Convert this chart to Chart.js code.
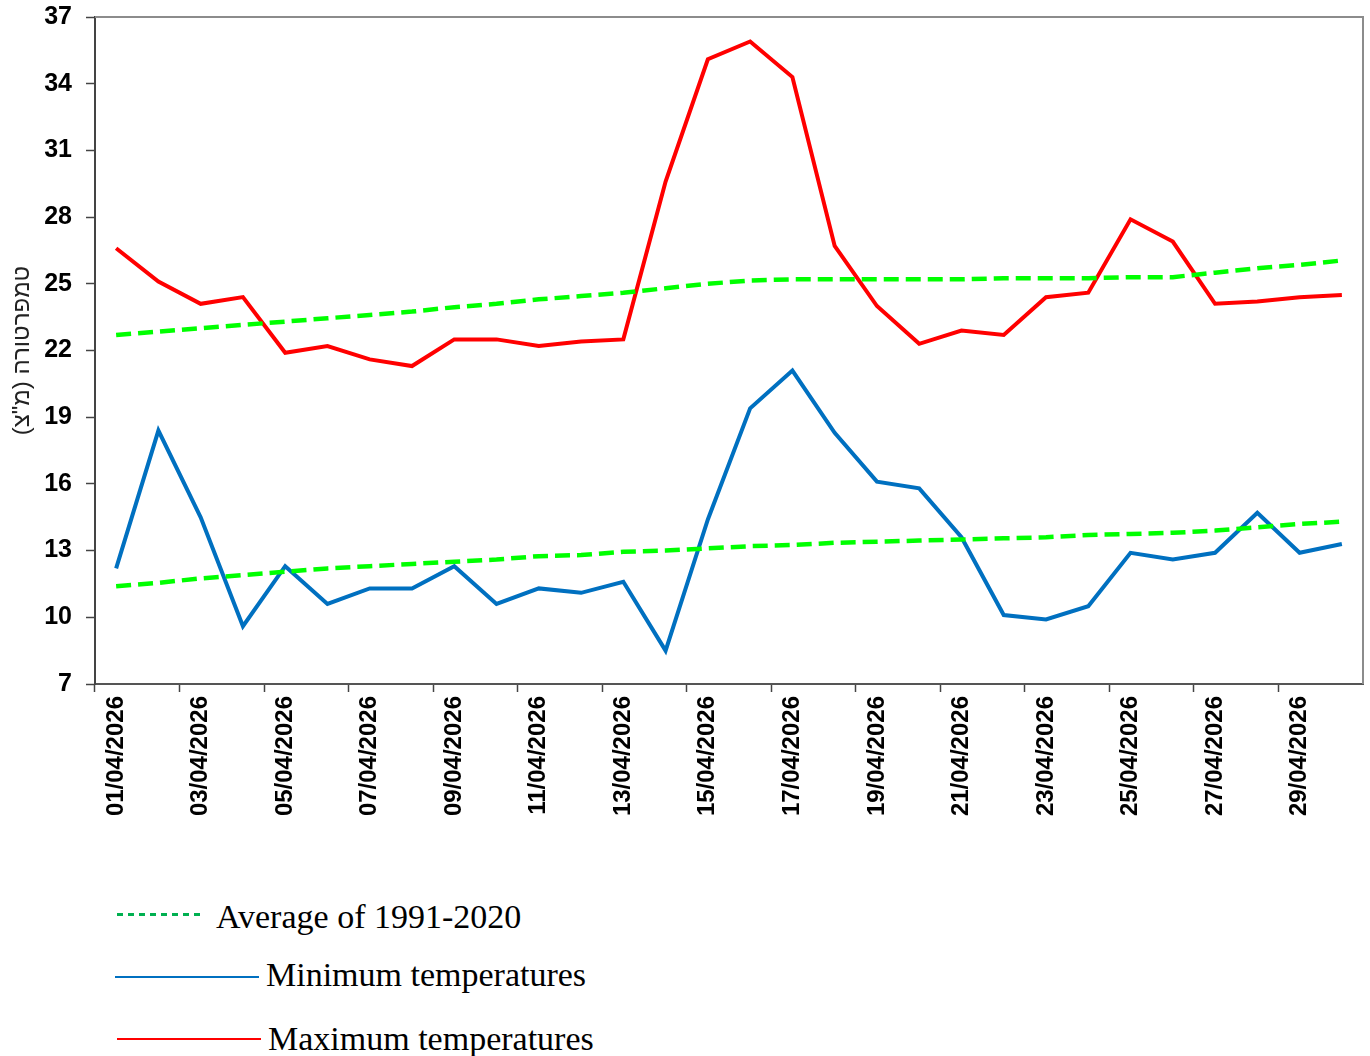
<!DOCTYPE html>
<html>
<head>
<meta charset="utf-8">
<script src="https://cdn.jsdelivr.net/npm/chart.js@4/dist/chart.umd.min.js"></script>
<style>
  html, body { margin: 0; padding: 0; background: #fff; }
  #wrap { position: relative; width: 1370px; height: 1056px; overflow: hidden; }
  #c { position: absolute; left: 0; top: 0; }
  .lg-text { position: absolute; font-family: "Liberation Serif", "Times New Roman", serif; font-size: 34px; line-height: 34px; color: #000; white-space: nowrap; }
  .lg-line { position: absolute; }
</style>
</head>
<body>
<div id="wrap">
  <canvas id="c" width="1370" height="830"></canvas>
  <div class="lg-line" style="left:117px; top:913px; width:83px; height:3px; background: repeating-linear-gradient(90deg, #00b050 0 6px, transparent 6px 11px);"></div>
  <div class="lg-text" style="left:216px; top:900px;">Average of 1991-2020</div>
  <div class="lg-line" style="left:115px; top:976px; width:144px; height:2px; background:#0070c0;"></div>
  <div class="lg-text" style="left:266px; top:958px;">Minimum temperatures</div>
  <div class="lg-line" style="left:117px; top:1038px; width:144px; height:2px; background:#ff0000;"></div>
  <div class="lg-text" style="left:268px; top:1022px;">Maximum temperatures</div>
</div>
<script>
const days = ["01/04/2026","02/04/2026","03/04/2026","04/04/2026","05/04/2026","06/04/2026","07/04/2026","08/04/2026","09/04/2026","10/04/2026",
              "11/04/2026","12/04/2026","13/04/2026","14/04/2026","15/04/2026","16/04/2026","17/04/2026","18/04/2026","19/04/2026","20/04/2026",
              "21/04/2026","22/04/2026","23/04/2026","24/04/2026","25/04/2026","26/04/2026","27/04/2026","28/04/2026","29/04/2026","30/04/2026"];

const maxTemps = [26.6,25.1,24.1,24.4,21.9,22.2,21.6,21.3,22.5,22.5,22.2,22.4,22.5,29.6,35.1,35.9,34.3,26.7,24.0,22.3,22.9,22.7,24.4,24.6,27.9,26.9,24.1,24.2,24.4,24.5];
const minTemps = [12.2,18.4,14.5,9.6,12.3,10.6,11.3,11.3,12.3,10.6,11.3,11.1,11.6,8.5,14.4,19.4,21.1,18.3,16.1,15.8,13.6,10.1,9.9,10.5,12.9,12.6,12.9,14.7,12.9,13.3];
const avgMax = [22.7,22.85,23.0,23.15,23.3,23.45,23.6,23.75,23.95,24.1,24.3,24.45,24.6,24.8,25.0,25.15,25.2,25.2,25.2,25.2,25.2,25.25,25.25,25.25,25.3,25.3,25.5,25.7,25.85,26.05];
const avgMin = [11.4,11.55,11.75,11.9,12.05,12.2,12.3,12.4,12.5,12.6,12.75,12.8,12.95,13.0,13.1,13.2,13.25,13.35,13.4,13.45,13.5,13.55,13.6,13.7,13.75,13.8,13.9,14.05,14.2,14.3];

const yMin = 7, yMax = 37, yStep = 3;
const yTitle = "\u200F" + "טמפרטורה (מ\"צ)" + "\u200F";
const seriesNames = ["Average of 1991-2020", "Minimum temperatures", "Maximum temperatures"];

const framePlugin = {
  id: 'frame',
  afterDraw(chart) {
    const { ctx, chartArea: a } = chart;
    ctx.save();
    ctx.strokeStyle = '#8c8c8c';
    ctx.lineWidth = 2;
    ctx.beginPath();
    ctx.moveTo(a.left, a.top);
    ctx.lineTo(a.right, a.top);
    ctx.lineTo(a.right, a.bottom);
    ctx.stroke();
    ctx.restore();
  }
};

new Chart(document.getElementById('c'), {
  type: 'line',
  data: {
    labels: days,
    datasets: [
      { label: seriesNames[0], data: avgMax, borderColor: '#00ff00', borderWidth: 4.5, borderDash: [15, 7], pointRadius: 0, tension: 0 },
      { label: seriesNames[0], data: avgMin, borderColor: '#00ff00', borderWidth: 4.5, borderDash: [15, 7], pointRadius: 0, tension: 0 },
      { label: seriesNames[1], data: minTemps, borderColor: '#0070c0', borderWidth: 4, pointRadius: 0, tension: 0 },
      { label: seriesNames[2], data: maxTemps, borderColor: '#ff0000', borderWidth: 4, pointRadius: 0, tension: 0 }
    ]
  },
  options: {
    responsive: false,
    animation: false,
    layout: { padding: { top: 17, right: 7, left: 0, bottom: 0 } },
    plugins: { legend: { display: false }, tooltip: { enabled: false } },
    scales: {
      x: {
        offset: true,
        grid: {
          offset: true,
          drawOnChartArea: false,
          tickLength: 8,
          tickWidth: 1.5,
          tickColor: (c) => (c.index % 2 === 0 ? '#444' : 'rgba(0,0,0,0)')
        },
        border: { color: '#555', width: 2 },
        ticks: {
          autoSkip: false,
          maxRotation: 90,
          minRotation: 90,
          padding: 4,
          color: '#000',
          font: { family: '"Liberation Sans", Arial, sans-serif', size: 24, weight: 'bold' },
          callback: (v, i) => (i % 2 === 0 ? days[i] : '')
        },
        afterFit: (s) => { s.height = 146; s.paddingLeft = 0; s.paddingRight = 0; }
      },
      y: {
        min: yMin,
        max: yMax,
        grid: { drawOnChartArea: false, tickLength: 9, color: '#444', tickWidth: 1.5 },
        border: { color: '#444', width: 2 },
        ticks: {
          stepSize: yStep,
          padding: 14,
          color: '#000',
          font: { family: '"Liberation Sans", Arial, sans-serif', size: 25, weight: 'bold' }
        },
        title: {
          display: true,
          text: yTitle,
          color: '#222',
          padding: { top: 8, bottom: 0 },
          font: { family: '"Liberation Sans", Arial, sans-serif', size: 24, weight: 'normal' }
        },
        afterFit: (s) => { s.width = 95; s.paddingTop = 0; s.paddingBottom = 0; }
      }
    }
  },
  plugins: [framePlugin]
});
</script>
</body>
</html>
